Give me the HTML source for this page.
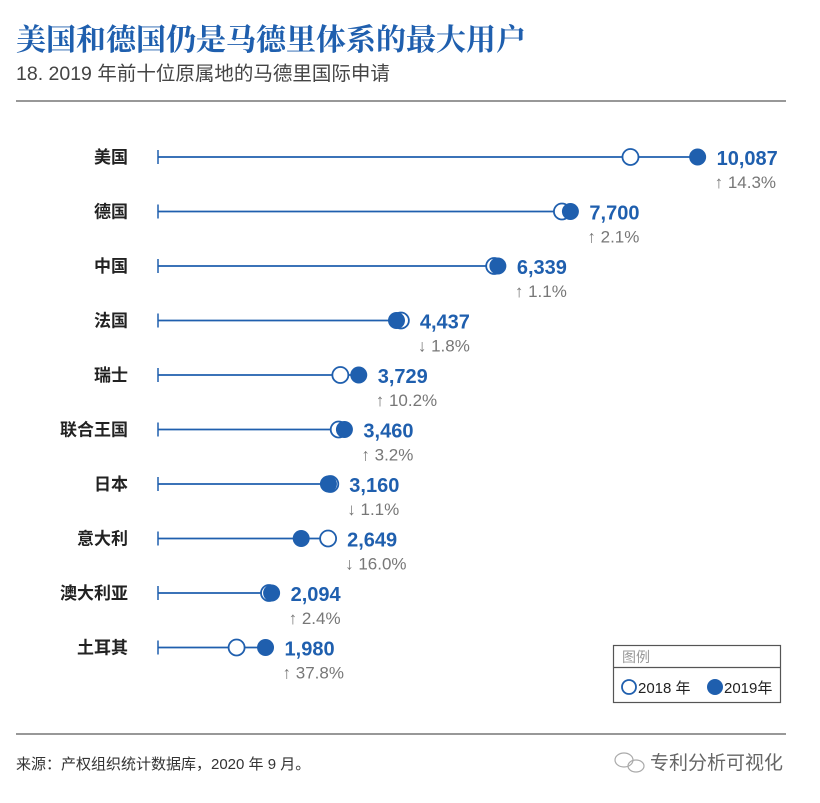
<!DOCTYPE html>
<html><head><meta charset="utf-8"><style>
body{margin:0;background:#fff;width:820px;height:798px;overflow:hidden;font-family:"Liberation Sans","Noto Sans CJK SC",sans-serif}
</style></head><body>
<svg width="820" height="798" xmlns="http://www.w3.org/2000/svg">
<text x="16" y="50" font-size="30" font-weight="bold" fill="#1f5fae" font-family="Liberation Serif,Noto Serif CJK SC,serif">美国和德国仍是马德里体系的最大用户</text>
<text x="16" y="80" font-size="19.5" fill="#444" font-family="Liberation Sans,Noto Sans CJK SC,sans-serif">18. 2019 年前十位原属地的马德里国际申请</text>
<line x1="16" y1="101" x2="786" y2="101" stroke="#777" stroke-width="1.5"/>
<g id="rows"></g>
<g>
<rect x="613.5" y="645.5" width="167" height="57" fill="#fff" stroke="#555" stroke-width="1.2"/>
<line x1="613" y1="667.5" x2="781" y2="667.5" stroke="#555" stroke-width="1.2"/>
<text x="622" y="662" font-size="14" fill="#999">图例</text>
<circle cx="629" cy="687" r="7" fill="#fff" stroke="#1f5fae" stroke-width="1.8"/>
<text x="638" y="693" font-size="15" fill="#222">2018 年</text>
<circle cx="715" cy="687" r="8" fill="#1f5fae"/>
<text x="724" y="693" font-size="15" fill="#222">2019年</text>
</g>
<line x1="16" y1="734" x2="786" y2="734" stroke="#777" stroke-width="1.5"/>
<text x="16" y="769" font-size="15" fill="#333">来源：产权组织统计数据库，2020 年 9 月。</text>
<text x="650" y="769" font-size="19" fill="#666">专利分析可视化</text>
<g fill="none" stroke="#aaa" stroke-width="1.2"><ellipse cx="624" cy="760" rx="9" ry="7"/><ellipse cx="636" cy="766" rx="8" ry="6"/></g>
</svg>
<script>
const countries=["美国","德国","中国","法国","瑞士","联合王国","日本","意大利","澳大利亚","土耳其"];
const values2019=[10087,7700,6339,4437,3729,3460,3160,2649,2094,1980];
const values2018=[8827,7541,6270,4519,3384,3353,3195,3154,2045,1437];
const changeLabels=["14.3%","2.1%","1.1%","1.8%","10.2%","3.2%","1.1%","16.0%","2.4%","37.8%"];
const changeUp=[true,true,true,false,true,true,false,false,true,true];
const NS="http://www.w3.org/2000/svg";
const x0=158;
function xScale(v){return 160+v*0.0533;}
function yScale(i){return 157+i*54.5;}
const g=document.getElementById('rows');
function mk(t,a,p){const e=document.createElementNS(NS,t);for(const k in a)e.setAttribute(k,a[k]);(p||g).appendChild(e);return e;}
countries.forEach((c,i)=>{
  const y=yScale(i),x19=xScale(values2019[i]),x18=xScale(values2018[i]);
  const row=mk('g',{});
  
  
  const lab=mk('text',{x:128,y:y+6,'font-size':17,'font-weight':'bold','text-anchor':'end',fill:'#222'},row);lab.textContent=c;
  
  
  const tick=mk('line',{x1:x0,y1:y-7,x2:x0,y2:y+7,stroke:'#1f5fae','stroke-width':1.5},row);
  
  
  const xr=Math.max(x18,x19);
  const ln=mk('line',{x1:x0,y1:y,x2:xr,y2:y,stroke:'#1f5fae','stroke-width':1.8},row);
  
  
  const c18=mk('circle',{cx:x18,cy:y,r:8,fill:'#fff',stroke:'#1f5fae','stroke-width':1.8},row);
  
  
  const c19=mk('circle',{cx:x19,cy:y,r:8.5,fill:'#1f5fae'},row);
  
  
  const tx=xr+19;
  const v=mk('text',{x:tx,y:y+8,'font-size':20,'font-weight':'bold',fill:'#1f5fae'},row);v.textContent=values2019[i].toLocaleString('en-US');
  
  
  const ch=mk('text',{x:tx-2,y:y+31,'font-size':17,fill:'#777'},row);ch.textContent=(changeUp[i]?'↑ ':'↓ ')+changeLabels[i];
  
  
});
</script>
</body></html>
